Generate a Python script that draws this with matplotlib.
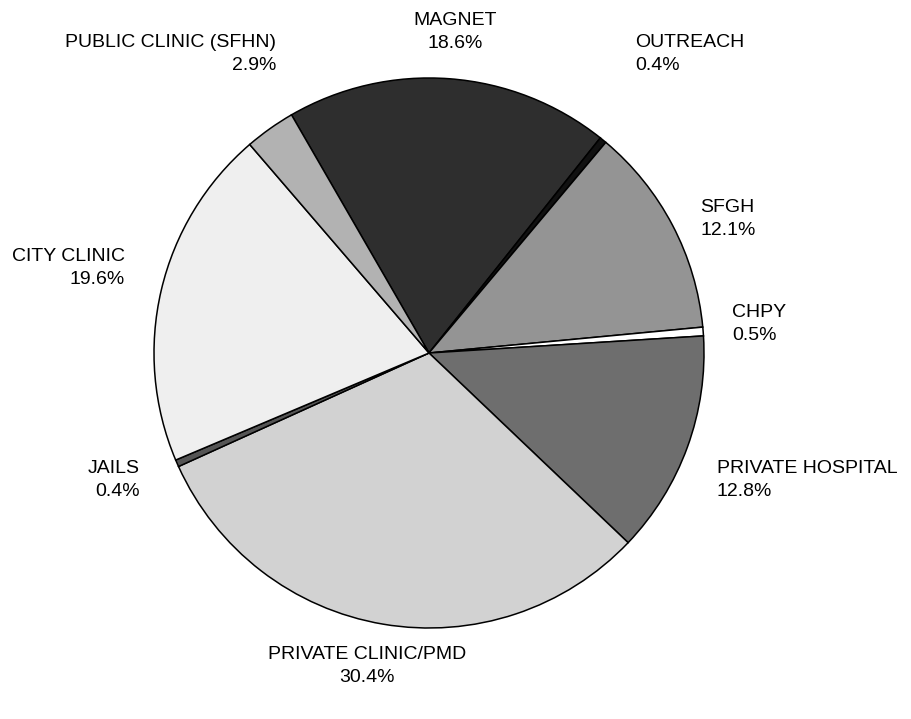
import matplotlib
matplotlib.use("Agg")
import matplotlib.pyplot as plt

plt.rcParams["font.family"] = ["Liberation Sans", "DejaVu Sans"]

# data (clockwise from top-left)
labels = ["MAGNET", "OUTREACH", "SFGH", "CHPY", "PRIVATE HOSPITAL",
          "PRIVATE CLINIC/PMD", "JAILS", "CITY CLINIC", "PUBLIC CLINIC (SFHN)"]
shares = [18.6, 0.4, 12.1, 0.5, 12.8, 30.4, 0.4, 19.6, 2.9]
colors = ["#2e2e2e", "#111111", "#949494", "#ffffff", "#6e6e6e",
          "#d2d2d2", "#555555", "#efefef", "#b2b2b2"]

# label placement in pixels (x, y from top, alignment)
label_pos = [(455, 32, "center"), (635, 54, "left"), (700, 219, "left"),
             (732, 324, "left"), (717, 480, "left"), (367, 666, "center"),
             (140, 480, "right"), (125, 268, "right"), (276, 54, "right")]

W, H = 911, 719
fig = plt.figure(figsize=(W / 100, H / 100), dpi=100)
ax = fig.add_axes([0, 0, 1, 1])

ax.pie(shares, colors=colors, startangle=120, counterclock=False,
       center=(429, H - 353), radius=275,
       wedgeprops=dict(edgecolor="black", linewidth=1.1))

for name, val, (x, y, ha) in zip(labels, shares, label_pos):
    ax.text(x, H - y, f"{name}\n{val:.1f}%", ha=ha, va="center",
            fontsize=14, linespacing=1.5, multialignment=ha)

ax.set_xlim(0, W)
ax.set_ylim(0, H)
ax.set_aspect("equal")
ax.axis("off")

fig.savefig("out.png", dpi=100, facecolor="white")
